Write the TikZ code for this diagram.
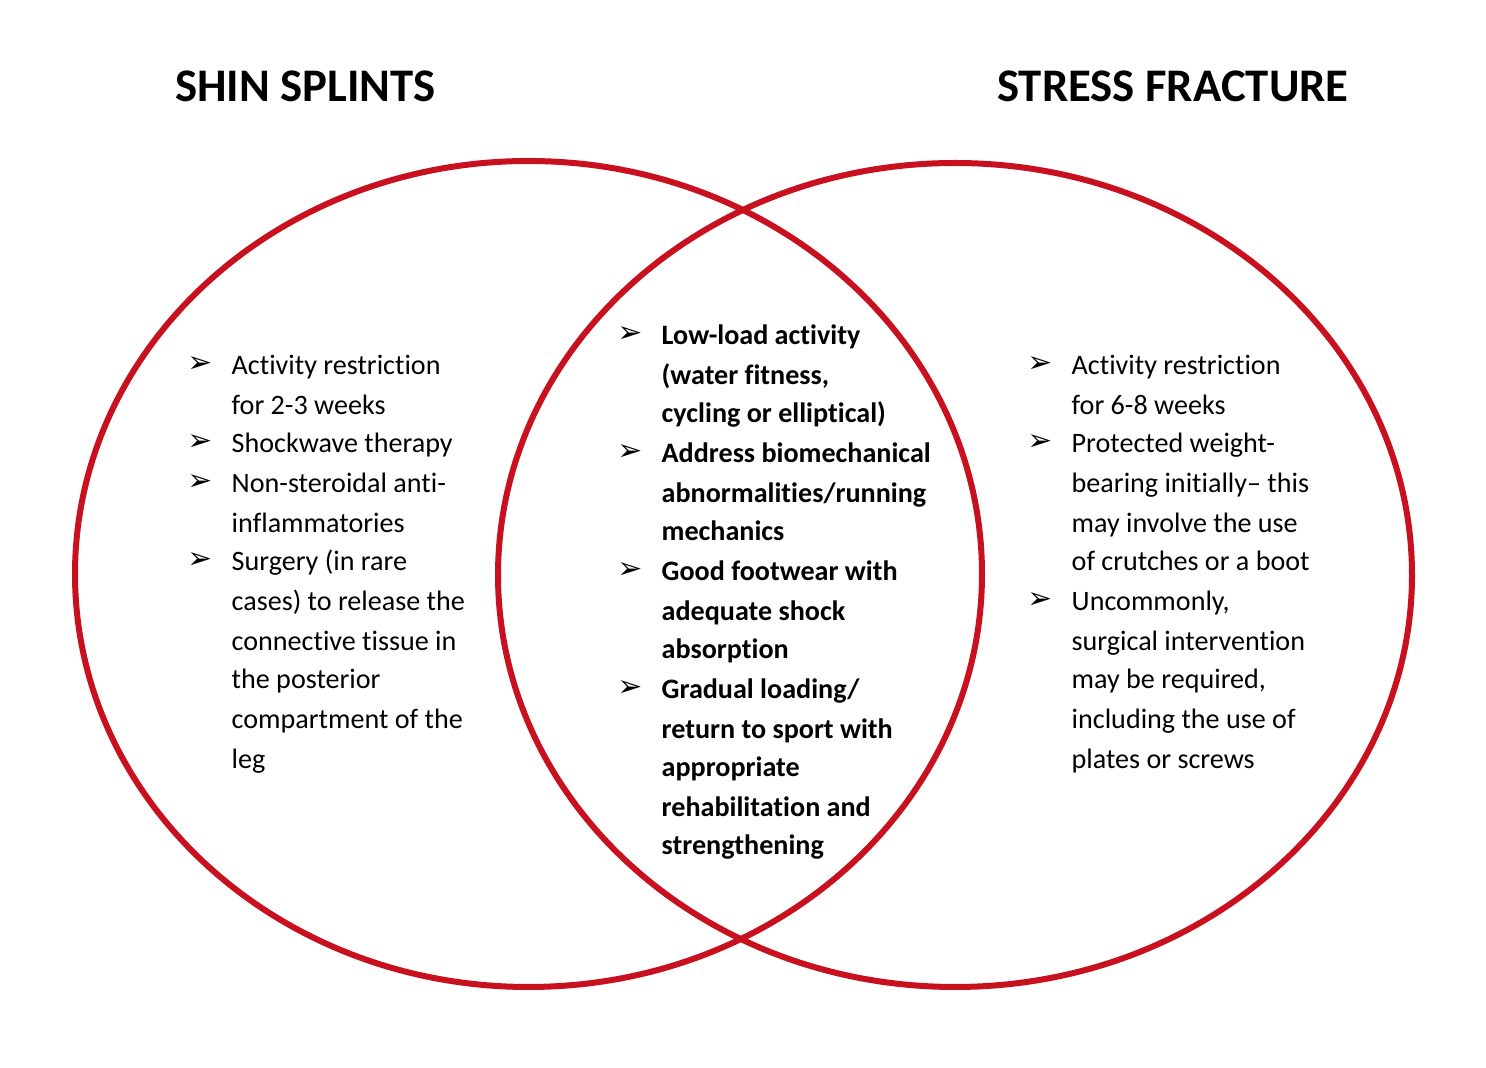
\documentclass[tikz,border=0pt]{standalone}
\usepackage{fontspec}
\setmainfont[Ligatures=NoCommon]{Carlito}
\newfontfamily\bulfont{DejaVu Sans}
\definecolor{vennred}{RGB}{200,16,30}
\begin{document}
\begin{tikzpicture}[x=1cm,y=1cm,
  circ/.style={draw=vennred, line width=0.06cm},
  txt/.style={inner sep=0pt, anchor=base west, font=\fontsize{8pt}{10pt}\selectfont},
  btxt/.style={txt, font=\fontsize{8pt}{10pt}\selectfont\bfseries},
  bul/.style={inner sep=0pt, font=\bulfont\bfseries\fontsize{8.5pt}{10pt}\selectfont},
  ttl/.style={inner sep=0pt, anchor=base, font=\fontsize{13.3pt}{16pt}\selectfont\bfseries}]
\useasboundingbox (0,0) rectangle (14.86,10.68);
\fill[white] (0,0) rectangle (14.86,10.68);
% circles
\draw[circ] (5.285,4.94) ellipse [x radius=4.535, y radius=4.13];
\draw[circ] (9.55,4.93) ellipse [x radius=4.57, y radius=4.12];
% titles
\node[ttl] (t1) at (3.055,{(1068-102)/100}) {SHIN SPLINTS};
\node[ttl] (t2) at (11.73,{(1068-102)/100}) {STRESS FRACTURE};
% left column
\foreach \y/\t [count=\i] in {365/{Activity restriction}, 405/{for 2-3 weeks}, 443/{Shockwave therapy}, 483/{Non-steroidal anti-}, 523/{inflammatories}, 561/{Surgery (in rare}, 601/{cases) to release the}, 641/{connective tissue in}, 679/{the posterior}, 719/{compartment of the}, 759/{leg}}
  \node[txt] (L\i) at (2.31,{(1058-\y)/100}) {\t};
\foreach \y [count=\i] in {365,443,483,561}
  \node[bul] (LB\i) at (2.00,{(1068-\y)/100}) {➢};
% center column
\foreach \y/\t [count=\i] in {335/{Low-load activity}, 375/{(water fitness,}, 413/{cycling or elliptical)}, 453/{Address biomechanical}, 493/{abnormalities/running}, 531/{mechanics}, 571/{Good footwear with}, 611/{adequate shock}, 649/{absorption}, 689/{Gradual loading/}, 729/{return to sport with}, 767/{appropriate}, 807/{rehabilitation and}, 845/{strengthening}}
  \node[btxt] (C\i) at (6.61,{(1058-\y)/100}) {\t};
\foreach \y [count=\i] in {335,453,571,689}
  \node[bul] (CB\i) at (6.30,{(1068-\y)/100}) {➢};
% right column
\foreach \y/\t [count=\i] in {365/{Activity restriction}, 405/{for 6-8 weeks}, 443/{Protected weight-}, 483/{bearing initially– this}, 523/{may involve the use}, 561/{of crutches or a boot}, 601/{Uncommonly,}, 641/{surgical intervention}, 679/{may be required,}, 719/{including the use of}, 759/{plates or screws}}
  \node[txt] (R\i) at (10.71,{(1058-\y)/100}) {\t};
\foreach \y [count=\i] in {365,443,601}
  \node[bul] (RB\i) at (10.40,{(1068-\y)/100}) {➢};
\end{tikzpicture}
\end{document}
